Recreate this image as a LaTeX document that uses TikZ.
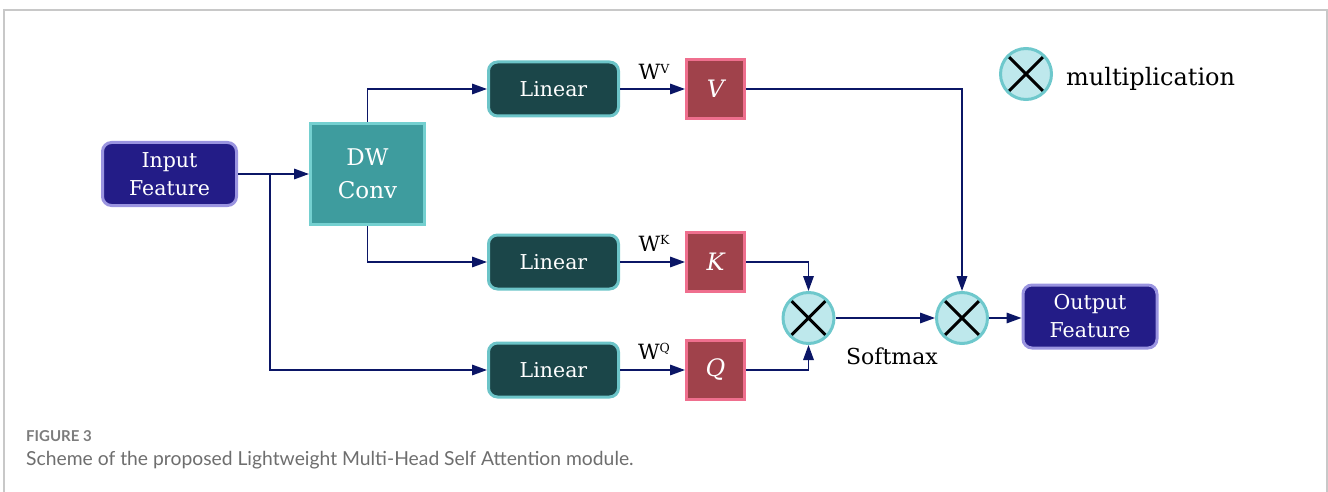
\documentclass[tikz,border=0pt]{standalone}
\usepackage{fontspec}
\setmainfont{DejaVu Serif}
\newfontfamily\capfont{Lato}
\usetikzlibrary{arrows.meta}

\definecolor{navyline}{HTML}{0B1666}
\definecolor{featfill}{HTML}{231C87}
\definecolor{featedge}{HTML}{9A94E0}
\definecolor{convfill}{HTML}{3E9C9E}
\definecolor{convedge}{HTML}{74D0D0}
\definecolor{linfill}{HTML}{1B4649}
\definecolor{linedge}{HTML}{6CC4C8}
\definecolor{vkqfill}{HTML}{A0424B}
\definecolor{vkqedge}{HTML}{EF6F8E}
\definecolor{mulfill}{HTML}{BEE8EC}
\definecolor{muledge}{HTML}{6EC8CC}
\definecolor{framegray}{HTML}{C8C8C8}
\definecolor{capgray}{HTML}{6E6E6E}

\tikzset{
  wire/.style={draw=navyline, line width=1.7pt},
  conn/.style={wire, -{Triangle[length=15pt,width=10.5pt]}},
  featbox/.style={rectangle, rounded corners=9pt, fill=featfill, draw=featedge,
    line width=3pt, text=white, align=center, inner sep=0pt,
    minimum width=134pt, minimum height=63pt,
    font=\fontsize{20.5}{28}\selectfont},
  convbox/.style={rectangle, fill=convfill, draw=convedge, line width=3pt,
    text=white, align=center, inner sep=0pt,
    minimum width=114pt, minimum height=101pt,
    font=\fontsize{23}{33}\selectfont},
  linbox/.style={rectangle, rounded corners=9pt, fill=linfill, draw=linedge,
    line width=3pt, text=white, inner sep=0pt,
    minimum width=130pt, minimum height=54pt,
    font=\fontsize{20.5}{24}\selectfont},
  vkqbox/.style={rectangle, fill=vkqfill, draw=vkqedge, line width=3pt,
    text=white, inner sep=0pt, minimum width=58pt, minimum height=59pt,
    font=\fontsize{24}{26}\selectfont\itshape},
  mulnode/.style={circle, fill=mulfill, draw=muledge, line width=3pt,
    minimum size=51pt, inner sep=0pt,
    path picture={\draw[black, line width=3pt]
      (path picture bounding box.north west) -- (path picture bounding box.south east)
      (path picture bounding box.north east) -- (path picture bounding box.south west);}},
  wlabel/.style={anchor=base, inner sep=0pt, font=\fontsize{21}{24}\selectfont},
}

\newcommand{\wsup}[1]{W\raisebox{0.6ex}{\fontsize{12.5}{13}\selectfont #1}}

\begin{document}
\begin{tikzpicture}[x=1pt, y=-1pt]
  \useasboundingbox (0,0) rectangle (1328,492);

  % outer frame (open at the bottom)
  \draw[framegray, line width=1.3pt] (4,492) -- (4,10) -- (1327,10) -- (1327,492);

  % blocks
  \node[featbox] (input) at (169.5,174) {Input\\Feature};
  \node[convbox] (dw) at (367.5,174) {DW\\Conv};

  \node[linbox] (linV) at (553.5,89) {Linear};
  \node[linbox] (linK) at (553.5,262) {Linear};
  \node[linbox] (linQ) at (553.5,370) {Linear};

  \node[vkqbox] (V) at (715.5,89) {V};
  \node[vkqbox] (K) at (715.5,262) {K};
  \node[vkqbox] (Q) at (715.5,370) {Q};

  \node[mulnode] (m1) at (808.5,318) {};
  \node[mulnode] (m2) at (962,318) {};

  \node[featbox] (out) at (1090,316.5) {Output\\Feature};

  % legend
  \node[mulnode] (legend) at (1026,74) {};
  \node[anchor=base west, inner sep=0pt, font=\fontsize{24}{28}\selectfont]
    (legendtxt) at (1066,86) {multiplication};

  % weight labels and softmax
  \node[wlabel] (wv) at (654,80) {\wsup{V}};
  \node[wlabel] (wk) at (654,251) {\wsup{K}};
  \node[wlabel] (wq) at (654,359) {\wsup{Q}};
  \node[anchor=base, inner sep=0pt, font=\fontsize{22}{24}\selectfont]
    (softmax) at (892,364) {Softmax};

  % connectors
  \coordinate (split) at (270,174);
  \draw[conn] (input.east) -- (dw.west);
  \draw[conn] (split) |- (linQ.west);
  \draw[conn] (dw.north) |- (linV.west);
  \draw[conn] (dw.south) |- (linK.west);

  \draw[conn] (linV.east) -- (V.west);
  \draw[conn] (linK.east) -- (K.west);
  \draw[conn] (linQ.east) -- (Q.west);

  \draw[conn] (V.east) -| (m2.north);
  \draw[conn] (K.east) -| (m1.north);
  \draw[conn] (Q.east) -| (m1.south);
  \draw[conn] (m1.east) -- (m2.west);
  \draw[conn] (m2.east) -- (m2.east -| out.west);

  % caption
  \node[anchor=base west, inner sep=0pt, text=capgray!90,
    font=\capfont\bfseries\fontsize{15}{17}\selectfont] (figno) at (26,441) {FIGURE 3};
  \node[anchor=base west, inner sep=0pt, text=capgray,
    font=\capfont\fontsize{19.3}{22}\selectfont] (caption) at (26,465)
    {Scheme of the proposed Lightweight Multi-Head Self Attention module.};
\end{tikzpicture}
\end{document}
